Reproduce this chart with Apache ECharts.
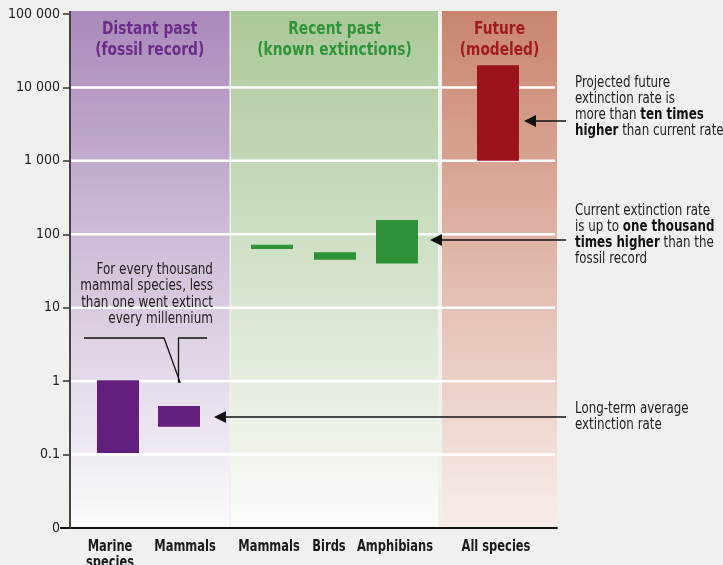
<!DOCTYPE html>
<html><head><meta charset="utf-8">
<script src="https://cdn.jsdelivr.net/npm/echarts@6/dist/echarts.min.js"></script>
<style>html,body{margin:0;padding:0;background:#f0f0ec;}#c{width:723px;height:565px;}</style>
</head><body><div id="c"></div>
<script>
// ---- data ----
const panelNames = ['Distant past\n(fossil record)', 'Recent past\n(known extinctions)', 'Future\n(modeled)'];
const panelStart = [0, 16.1, 37.2];
const panelEnd = [15.95, 36.8, 48.7];
const categories = ['Marine\nspecies', 'Mammals', 'Mammals', 'Birds', 'Amphibians', 'All species'];
const catPos = [4.8, 10.9, 20.2, 26.5, 32.7, 42.8];
const labelPos = [4.0, 11.5, 19.9, 25.9, 32.5, 42.6];
const catPanel = [0, 0, 1, 1, 1, 2];
const rateLow = [0.105, 0.24, 63, 45, 40, 1000];
const rateHigh = [1.03, 0.46, 72, 57, 157, 20000];
const yTickValues = [0.01, 0.1, 1, 10, 100, 1000, 10000, 100000];
const yTickLabels = ['0', '0.1', '1', '10', '100', '1 000', '10 000', '100 000'];
const gridLineValues = [0.1, 1, 10, 100, 1000, 10000];

const NARROW = '"DejaVu Sans Condensed", sans-serif';
const panelTop = ['#a98aba', '#abc899', '#c9856e'];
const panelBottom = ['#fcfbfd', '#fbfcfa', '#f9eeea'];
const titleColors = ['#6b2c89', '#2f9438', '#a11c20'];
const barColors = ['#621f7e', '#2f9238', '#9b141b'];
const BAR_W = 4.2;

const chart = echarts.init(document.getElementById('c'));

const option = {
  backgroundColor: '#f0f0ec',
  animation: false,
  grid: { left: 70, right: 166, top: 14, bottom: 37 },
  xAxis: {
    type: 'value', min: 0, max: 48.7,
    axisLine: { show: true, onZero: false, lineStyle: { color: '#111', width: 2 } },
    axisTick: { show: false }, axisLabel: { show: false }, splitLine: { show: false }
  },
  yAxis: {
    type: 'log', logBase: 10, min: 0.01, max: 100000, z: 3,
    axisLine: { show: true, lineStyle: { color: '#444', width: 2 } },
    axisTick: { show: true, length: 7, lineStyle: { color: '#333', width: 1.5 } },
    axisLabel: {
      color: '#222', fontSize: 14, fontFamily: '"DejaVu Sans Condensed", sans-serif', margin: 10,
      formatter: function (v) {
        for (let i = 0; i < yTickValues.length; i++) {
          if (Math.abs(Math.log10(v) - Math.log10(yTickValues[i])) < 1e-6) return yTickLabels[i];
        }
        return '';
      }
    },
    splitLine: { show: false }
  },
  series: [
    {
      type: 'custom', z: 0, silent: true,
      data: panelNames.map((n, i) => [i]),
      renderItem: function (params, api) {
        const i = api.value(0);
        const p0 = api.coord([panelStart[i], 100000]);
        const p1 = api.coord([panelEnd[i], 0.01]);
        const top = p0[1] - 3;
        return {
          type: 'group',
          children: [
            {
              type: 'rect',
              shape: { x: p0[0], y: top, width: p1[0] - p0[0], height: p1[1] - top },
              style: {
                fill: new echarts.graphic.LinearGradient(0, 0, 0, 1, [
                  { offset: 0, color: panelTop[i] },
                  { offset: 1, color: panelBottom[i] }
                ])
              }
            },
            {
              type: 'text',
              x: (p0[0] + p1[0]) / 2, y: top + 8, scaleX: 0.85,
              style: {
                text: panelNames[i], fill: titleColors[i], fontSize: 18, fontWeight: 'bold',
                fontFamily: NARROW, align: 'center', verticalAlign: 'top', lineHeight: 21
              }
            }
          ]
        };
      }
    },
    {
      type: 'custom', z: 1, silent: true,
      data: gridLineValues.map(v => [v]),
      renderItem: function (params, api) {
        const v = api.value(0);
        const a = api.coord([panelStart[0], v]);
        const b = api.coord([panelEnd[2], v]);
        return {
          type: 'line',
          shape: { x1: a[0] + 1, y1: a[1], x2: b[0] - 2, y2: b[1] },
          style: { stroke: '#ffffff', lineWidth: 2.5 }
        };
      }
    },
    {
      type: 'custom', z: 2, silent: true,
      data: categories.map((c, i) => [i]),
      renderItem: function (params, api) {
        const i = api.value(0);
        const hi = api.coord([catPos[i] - BAR_W / 2, rateHigh[i]]);
        const lo = api.coord([catPos[i] + BAR_W / 2, rateLow[i]]);
        const base = api.coord([labelPos[i], 0.01]);
        return {
          type: 'group',
          children: [
            {
              type: 'rect',
              shape: { x: hi[0], y: hi[1], width: lo[0] - hi[0], height: lo[1] - hi[1] },
              style: { fill: barColors[catPanel[i]] }
            },
            {
              type: 'text', x: base[0], y: base[1] + 11, scaleX: 0.85,
              style: {
                text: categories[i], fill: '#1a1a1a', fontSize: 15, fontWeight: 'bold',
                fontFamily: NARROW, align: 'center', verticalAlign: 'top', lineHeight: 16
              }
            }
          ]
        };
      }
    }
  ],
  graphic: []
};
chart.setOption(option);

// ---- annotations ----
const txtStyle = { fontSize: 15, fontFamily: NARROW, fill: '#222', lineHeight: 16 };
function rich(text, x, y) {
  return {
    type: 'text', x: x, y: y, z: 10, scaleX: 0.88,
    style: Object.assign({}, txtStyle, {
      text: text, verticalAlign: 'top',
      rich: { b: { fontWeight: 'bold', fontSize: 15, fontFamily: NARROW, fill: '#111', lineHeight: 16 } }
    })
  };
}
function arrow(x1, x2, y) {
  return [
    { type: 'line', z: 10, shape: { x1: x1 + 8, y1: y, x2: x2, y2: y }, style: { stroke: '#111', lineWidth: 1.5 } },
    { type: 'polygon', z: 10, shape: { points: [[x1, y], [x1 + 12, y - 6], [x1 + 12, y + 6]] }, style: { fill: '#111' } }
  ];
}
const origin = chart.convertToPixel({ gridIndex: 0 }, [0, 0.01]);
const topPt = chart.convertToPixel({ gridIndex: 0 }, [0, 100000]);
const g = [];
// axis extensions (top of y-axis and left of x-axis)
g.push({ type: 'line', z: 10, shape: { x1: topPt[0], y1: topPt[1] - 3, x2: topPt[0], y2: topPt[1] + 1 }, style: { stroke: '#444', lineWidth: 2 } });
g.push({ type: 'line', z: 10, shape: { x1: origin[0] - 10, y1: origin[1], x2: origin[0], y2: origin[1] }, style: { stroke: '#111', lineWidth: 2 } });
g.push(rich('Projected future\nextinction rate is\nmore than {b|ten times}\n{b|higher} than current rate', 575, 75));
g.push(rich('Current extinction rate\nis up to {b|one thousand}\n{b|times higher} than the\nfossil record', 575, 203));
g.push(rich('Long-term average\nextinction rate', 575, 401));
g.push({
  type: 'text', x: 213, y: 262, z: 10, scaleX: 0.89,
  style: Object.assign({}, txtStyle, { text: 'For every thousand\nmammal species, less\nthan one went extinct\nevery millennium', align: 'right', verticalAlign: 'top', lineHeight: 16.3 })
});
g.push({
  type: 'polyline', z: 10,
  shape: { points: [[84, 338], [164, 338], [180, 382], [178.5, 382], [178.5, 338], [207, 338]] },
  style: { stroke: '#111', lineWidth: 1.3, fill: null }
});
g.push(...arrow(524, 566, 121));
g.push(...arrow(430, 566, 240));
g.push(...arrow(214, 566, 417));
chart.setOption({ graphic: g });
</script>
</body></html>
